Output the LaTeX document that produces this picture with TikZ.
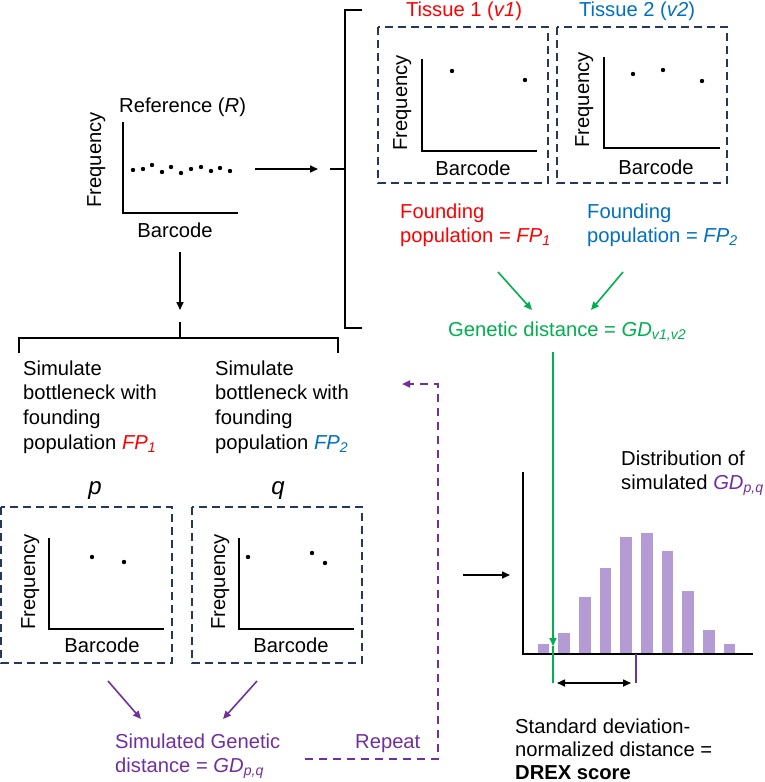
\documentclass[tikz,border=0pt]{standalone}
\usepackage{fontspec}
\setmainfont{Liberation Sans}
\usetikzlibrary{arrows.meta}

\definecolor{boxnavy}{RGB}{38,55,92}
\definecolor{tred}{RGB}{255,0,0}
\definecolor{tblue}{RGB}{0,112,192}
\definecolor{tgreen}{RGB}{0,176,80}
\definecolor{tpurple}{RGB}{112,48,160}
\definecolor{barpurple}{RGB}{180,155,212}

% left-aligned multi-line text whose baseline is that of the first line
\newcommand{\txtlines}[1]{\begin{tabular}[t]{@{}l@{}}#1\end{tabular}}
% italic symbol with italic subscript
\newcommand{\itsub}[2]{\textit{#1}\textsubscript{\textit{#2}}}

\begin{document}
\begin{tikzpicture}[x=1pt,y=-1pt,
  lbl/.style={inner sep=0pt,font=\fontsize{20.2}{24.8}\selectfont},
  biglbl/.style={inner sep=0pt,font=\fontsize{24}{28}\selectfont\itshape,anchor=base},
  vlbl/.style={lbl,rotate=90,anchor=base},
  axisline/.style={line width=2pt,line cap=rect},
  dot/.style={fill=black},
  dbox/.style={draw=boxnavy,line width=2pt,dash pattern=on 8pt off 5pt},
  conn/.style={line width=1.6pt,-{Triangle[length=8pt,width=7pt]}},
  gconn/.style={conn,draw=tgreen},
  pconn/.style={conn,draw=tpurple},
  bracket/.style={line width=2pt},
  bar/.style={fill=barpurple,draw=none}]

\useasboundingbox (0,0) rectangle (764,782);
\fill[white] (0,0) rectangle (764,782);

% ---------------- reference distribution ----------------
\node[lbl,anchor=base west] (reftitle) at (119,112) {Reference (\textit{R})};
\node[vlbl] (reffreq) at (101,160) {Frequency};
\node[lbl,anchor=base] (refbar) at (175,237) {Barcode};
\draw[axisline] (123,123) -- (123,213) -- (237,213);
\foreach \x/\y in {133/170,143/169,152/165,162/172,171/167,181/173,191/169,201/167,211/171,220/168,230/171}
  \fill[dot] (\x,\y) circle (2.2pt);

% arrow to the tissue bracket
\coordinate (refout) at (255,169);
\coordinate (tisin) at (318,169);
\draw[conn] (refout) -- (tisin);
\draw[bracket] (330,169) -- (345,169);
\draw[bracket] (362,10) -- (345,10) -- (345,328) -- (362,328);

% ---------------- tissue 1 ----------------
\node[lbl,anchor=base,text=tred] (t1title) at (464,16) {Tissue 1 (\textit{v1})};
\draw[dbox] (378,27) rectangle (548,183);
\draw[axisline] (422,60) -- (422,151) -- (536,151);
\fill[dot] (452,71) circle (2.2pt) (525,80) circle (2.2pt);
\node[vlbl] (t1freq) at (407,103) {Frequency};
\node[lbl,anchor=base] (t1bar) at (473,175) {Barcode};

% ---------------- tissue 2 ----------------
\node[lbl,anchor=base,text=tblue] (t2title) at (637,16) {Tissue 2 (\textit{v2})};
\draw[dbox] (557,27) rectangle (727,183);
\draw[axisline] (604,58) -- (604,148) -- (719,148);
\fill[dot] (633,74) circle (2.2pt) (663,70) circle (2.2pt) (702,81) circle (2.2pt);
\node[vlbl] (t2freq) at (589,100) {Frequency};
\node[lbl,anchor=base] (t2bar) at (656,174) {Barcode};

% founding populations
\node[lbl,anchor=base west,text=tred] (fp1) at (400,218) {\txtlines{Founding\\population = \itsub{FP}{1}}};
\node[lbl,anchor=base west,text=tblue] (fp2) at (587,218) {\txtlines{Founding\\population = \itsub{FP}{2}}};

\coordinate (fp1out) at (498,272);
\coordinate (fp2out) at (623,272);
\coordinate (gdin1) at (532,310);
\coordinate (gdin2) at (591,310);
\draw[gconn] (fp1out) -- (gdin1);
\draw[gconn] (fp2out) -- (gdin2);

\node[lbl,anchor=base west,text=tgreen] (gdobs) at (448,336) {Genetic distance = \itsub{GD}{v1,v2}};

% ---------------- simulation branch ----------------
\coordinate (refdown) at (180,252);
\coordinate (simin) at (180,310);
\draw[conn] (refdown) -- (simin);
\draw[bracket] (180,322) -- (180,338);
\draw[bracket] (19,353) -- (19,338) -- (338,338) -- (338,353);

\node[lbl,anchor=base west] (sim1) at (23,375)
  {\txtlines{Simulate\\bottleneck with\\founding\\population {\color{tred}\itsub{FP}{1}}}};
\node[lbl,anchor=base west] (sim2) at (215,375)
  {\txtlines{Simulate\\bottleneck with\\founding\\population {\color{tblue}\itsub{FP}{2}}}};

% sample p
\node[biglbl] (plbl) at (95,494) {p};
\draw[dbox] (1,507) rectangle (172,663);
\draw[axisline] (49,539) -- (49,629) -- (163,629);
\fill[dot] (92,557) circle (2.2pt) (124,562) circle (2.2pt);
\node[vlbl] (pfreq) at (35,582) {Frequency};
\node[lbl,anchor=base] (pbar) at (102,652) {Barcode};

% sample q
\node[biglbl] (qlbl) at (278,494) {q};
\draw[dbox] (192,507) rectangle (362,663);
\draw[axisline] (239,539) -- (239,629) -- (353,629);
\fill[dot] (248,557) circle (2.2pt) (312,553) circle (2.2pt) (325,563) circle (2.2pt);
\node[vlbl] (qfreq) at (225,582) {Frequency};
\node[lbl,anchor=base] (qbar) at (291,652) {Barcode};

\coordinate (pout) at (108,681);
\coordinate (qout) at (257,681);
\coordinate (gdsin1) at (141,719);
\coordinate (gdsin2) at (223,719);
\draw[pconn] (pout) -- (gdsin1);
\draw[pconn] (qout) -- (gdsin2);

\node[lbl,anchor=base west,text=tpurple] (gdsim) at (115,748)
  {\txtlines{Simulated Genetic\\distance = \itsub{GD}{p,q}}};

% repeat loop
\node[lbl,anchor=base west,text=tpurple] (repeat) at (355,748) {Repeat};
\coordinate (loopstart) at (305,759);
\coordinate (loopend) at (402,384);
\draw[tpurple,line width=2pt,dash pattern=on 8pt off 6pt,-{Triangle[length=8pt,width=7pt]}]
  (loopstart) -- (438,759) -- (438,384) -- (loopend);

% ---------------- histogram of simulated distances ----------------
\coordinate (histarrowstart) at (463,575);
\coordinate (histin) at (510,575);
\draw[conn] (histarrowstart) -- (histin);

\foreach \i/\top in {0/644,1/633,2/597,3/568,4/537,5/533,6/551,7/591,8/630,9/644}
  \fill[bar] ({537.7+20.67*\i},\top) rectangle ({549.4+20.67*\i},654);
\draw[axisline] (523,473) -- (523,654) -- (752,654);

\node[lbl,anchor=base west] (distlbl) at (621,465)
  {\txtlines{Distribution of\\simulated {\color{tpurple}\itsub{GD}{p,q}}}};

% observed distance marker
\coordinate (gdline) at (553,352);
\coordinate (gdhit) at (553,646);
\coordinate (gdtick) at (553,683);
\draw[gconn] (gdline) -- (gdhit);
\draw[tgreen,line width=2pt] (gdhit) -- (gdtick);

% mean of the simulated distribution
\draw[tpurple,line width=2pt] (636,654) -- (636,683);
\coordinate (dleft) at (557,683);
\coordinate (dright) at (631,683);
\draw[line width=1.6pt,{Triangle[length=8pt,width=7pt]}-{Triangle[length=8pt,width=7pt]}] (dleft) -- (dright);

\node[lbl,anchor=base west] (drex) at (515,733)
  {\fontsize{20.2}{23}\selectfont\txtlines{Standard deviation-\\normalized distance =\\\textbf{DREX score}}};

\end{tikzpicture}
\end{document}
